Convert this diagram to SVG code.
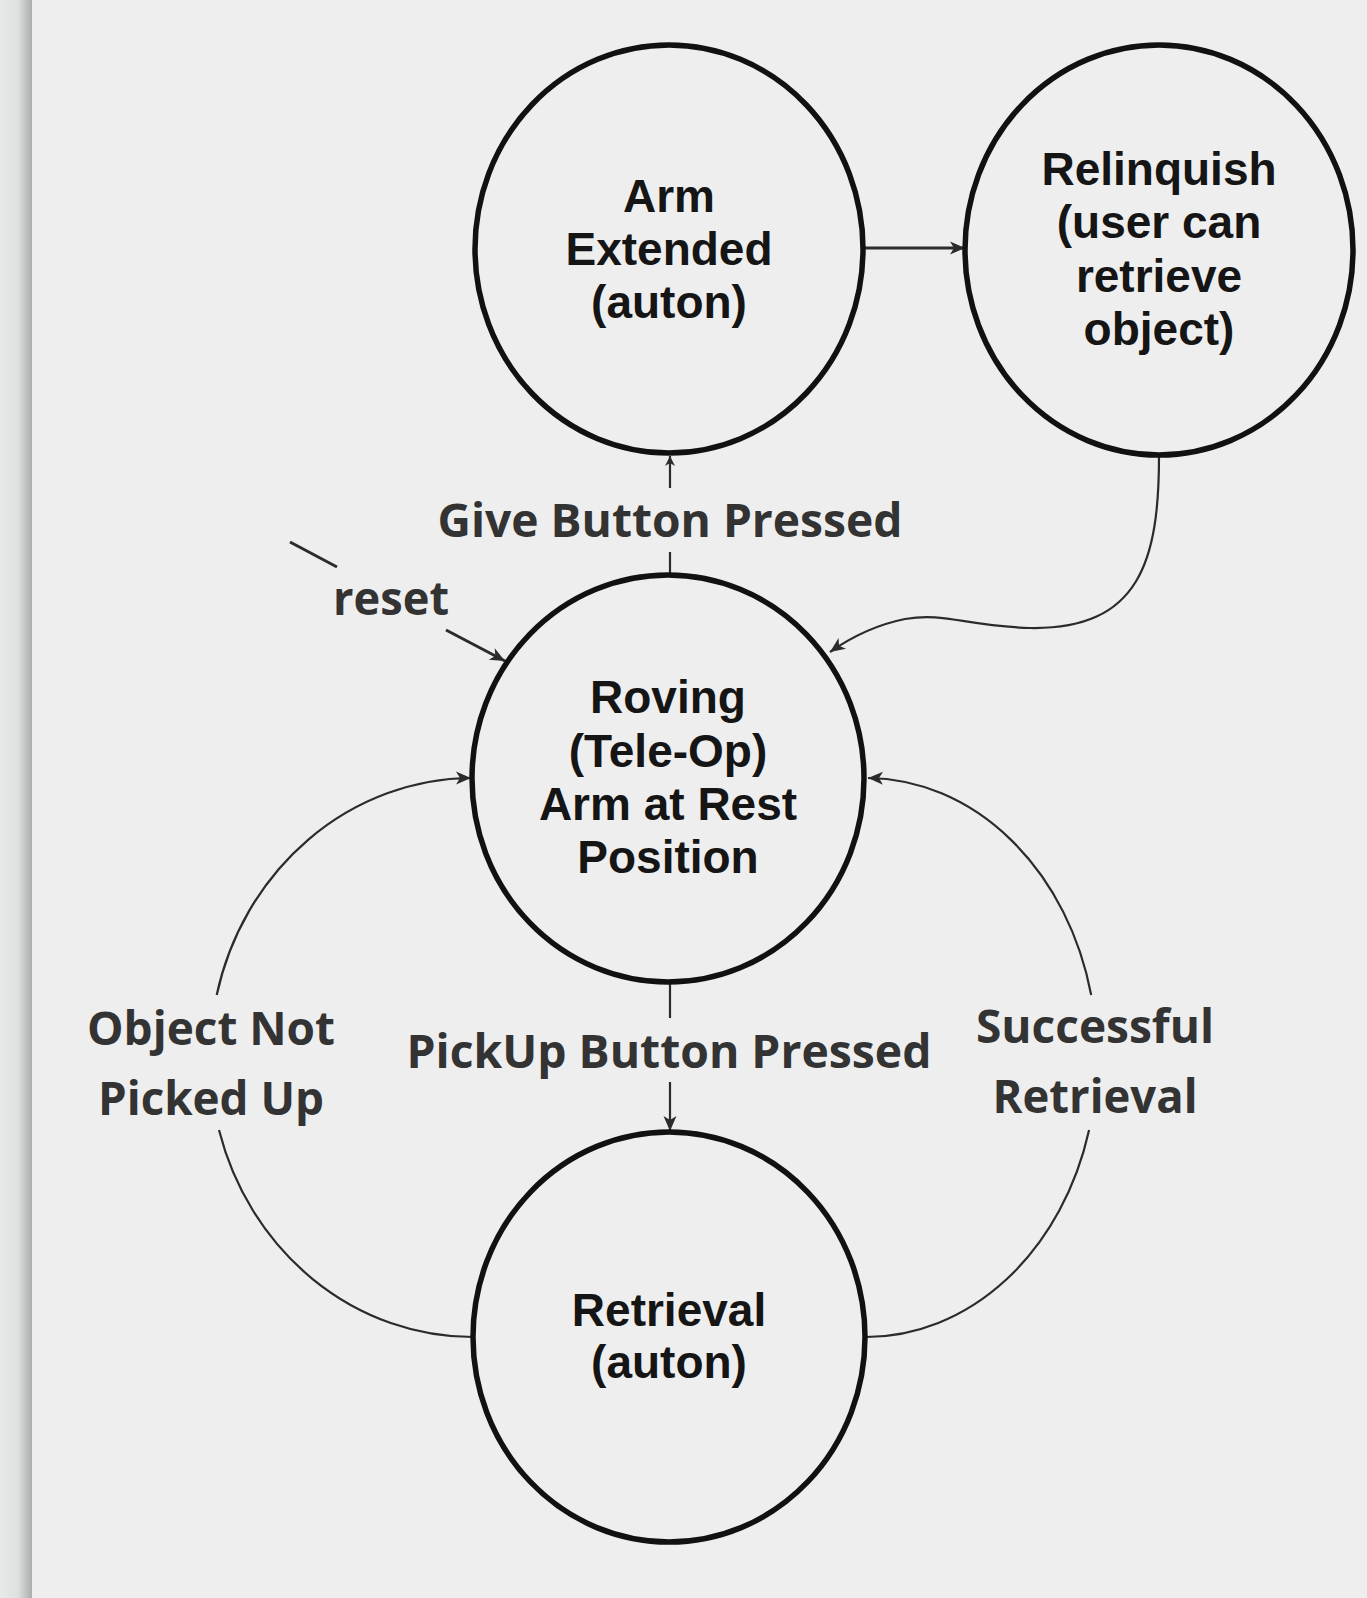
<svg xmlns="http://www.w3.org/2000/svg" width="1367" height="1598" viewBox="0 0 1367 1598">
<defs>
<linearGradient id="strip" x1="0" y1="0" x2="1" y2="0">
<stop offset="0" stop-color="#e6ebea"/>
<stop offset="0.55" stop-color="#dde2e1"/>
<stop offset="1" stop-color="#a9adac"/>
</linearGradient>
<marker id="ah" markerWidth="17" markerHeight="15" refX="16" refY="7.5" orient="auto" markerUnits="userSpaceOnUse">
<path d="M1,1 L16,7.5 L1,14 L5,7.5 Z" fill="#2b2b2b"/>
</marker>
<marker id="ahs" markerWidth="12" markerHeight="12" refX="11" refY="6" orient="auto" markerUnits="userSpaceOnUse">
<path d="M1,1 L11,6 L1,11 L4,6 Z" fill="#2b2b2b"/>
</marker>
<style>
.node{fill:none;stroke:#111;stroke-width:5.5}
.nt{font-family:"Liberation Sans",Arial,sans-serif;font-weight:bold;font-size:46px;fill:#151515;text-anchor:middle}
.lbl{font-family:"Open Sans","Noto Sans",sans-serif;font-weight:bold;font-size:46px;fill:#333;text-anchor:middle}
.c{fill:none;stroke:#2b2b2b;stroke-width:2.2}
.cs{fill:none;stroke:#2b2b2b;stroke-width:3}
</style>
</defs>
<rect width="1367" height="1598" fill="#eeeeee"/>
<rect x="0" y="0" width="32" height="1598" fill="url(#strip)"/>

<g id="connectors">
<path class="cs" d="M862 248 L965 248" marker-end="url(#ah)"/>
<path class="c" d="M670 573 L670 552"/>
<path class="c" d="M670 488 L670 456" marker-end="url(#ahs)"/>
<path class="c" d="M670 982 L670 1018"/>
<path class="c" d="M670 1082 L670 1131" marker-end="url(#ah)"/>
<path class="c" d="M1159 456 C1159 560 1140 630 1030 628 C965 626 945 612 905 619 C875 625 850 638 830 652" marker-end="url(#ah)"/>
<path class="c" d="M473 1337 A263 279.5 0 0 1 219 1130"/>
<path class="c" d="M216.7 995 A263 279.5 0 0 1 471 778" marker-end="url(#ah)"/>
<path class="c" d="M866 1337 A231 279.5 0 0 0 1089.1 1130"/>
<path class="c" d="M1091.2 995 A231 279.5 0 0 0 868 778" marker-end="url(#ah)"/>
<path class="cs" d="M290 542 L337 567"/>
<path class="cs" d="M446 630 L505 661" marker-end="url(#ah)"/>
</g>

<g id="labels">
<text class="lbl" x="670" y="537" textLength="465" lengthAdjust="spacingAndGlyphs">Give Button Pressed</text>
<text class="lbl" x="669" y="1068" textLength="525" lengthAdjust="spacingAndGlyphs">PickUp Button Pressed</text>
<text class="lbl" x="211" y="1045" textLength="248" lengthAdjust="spacingAndGlyphs">Object Not</text>
<text class="lbl" x="211" y="1115" textLength="226" lengthAdjust="spacingAndGlyphs">Picked Up</text>
<text class="lbl" x="1095" y="1043" textLength="238" lengthAdjust="spacingAndGlyphs">Successful</text>
<text class="lbl" x="1095" y="1113" textLength="205" lengthAdjust="spacingAndGlyphs">Retrieval</text>
<text class="lbl" x="391" y="615" textLength="116" lengthAdjust="spacingAndGlyphs">reset</text>
</g>

<g id="arm-extended">
<ellipse class="node" cx="669" cy="249" rx="194" ry="204"/>
<text class="nt" x="669" y="212">Arm</text>
<text class="nt" x="669" y="265">Extended</text>
<text class="nt" x="669" y="318">(auton)</text>
</g>

<g id="relinquish">
<ellipse class="node" cx="1159" cy="250" rx="194" ry="205"/>
<text class="nt" x="1159" y="185">Relinquish</text>
<text class="nt" x="1159" y="238">(user can</text>
<text class="nt" x="1159" y="292">retrieve</text>
<text class="nt" x="1159" y="345">object)</text>
</g>

<g id="roving">
<ellipse class="node" cx="668" cy="778.5" rx="196" ry="203.5"/>
<text class="nt" x="668" y="713">Roving</text>
<text class="nt" x="668" y="767">(Tele-Op)</text>
<text class="nt" x="668" y="820">Arm at Rest</text>
<text class="nt" x="668" y="873">Position</text>
</g>

<g id="retrieval">
<ellipse class="node" cx="669" cy="1337" rx="196" ry="205"/>
<text class="nt" x="669" y="1326">Retrieval</text>
<text class="nt" x="669" y="1378">(auton)</text>
</g>
</svg>
